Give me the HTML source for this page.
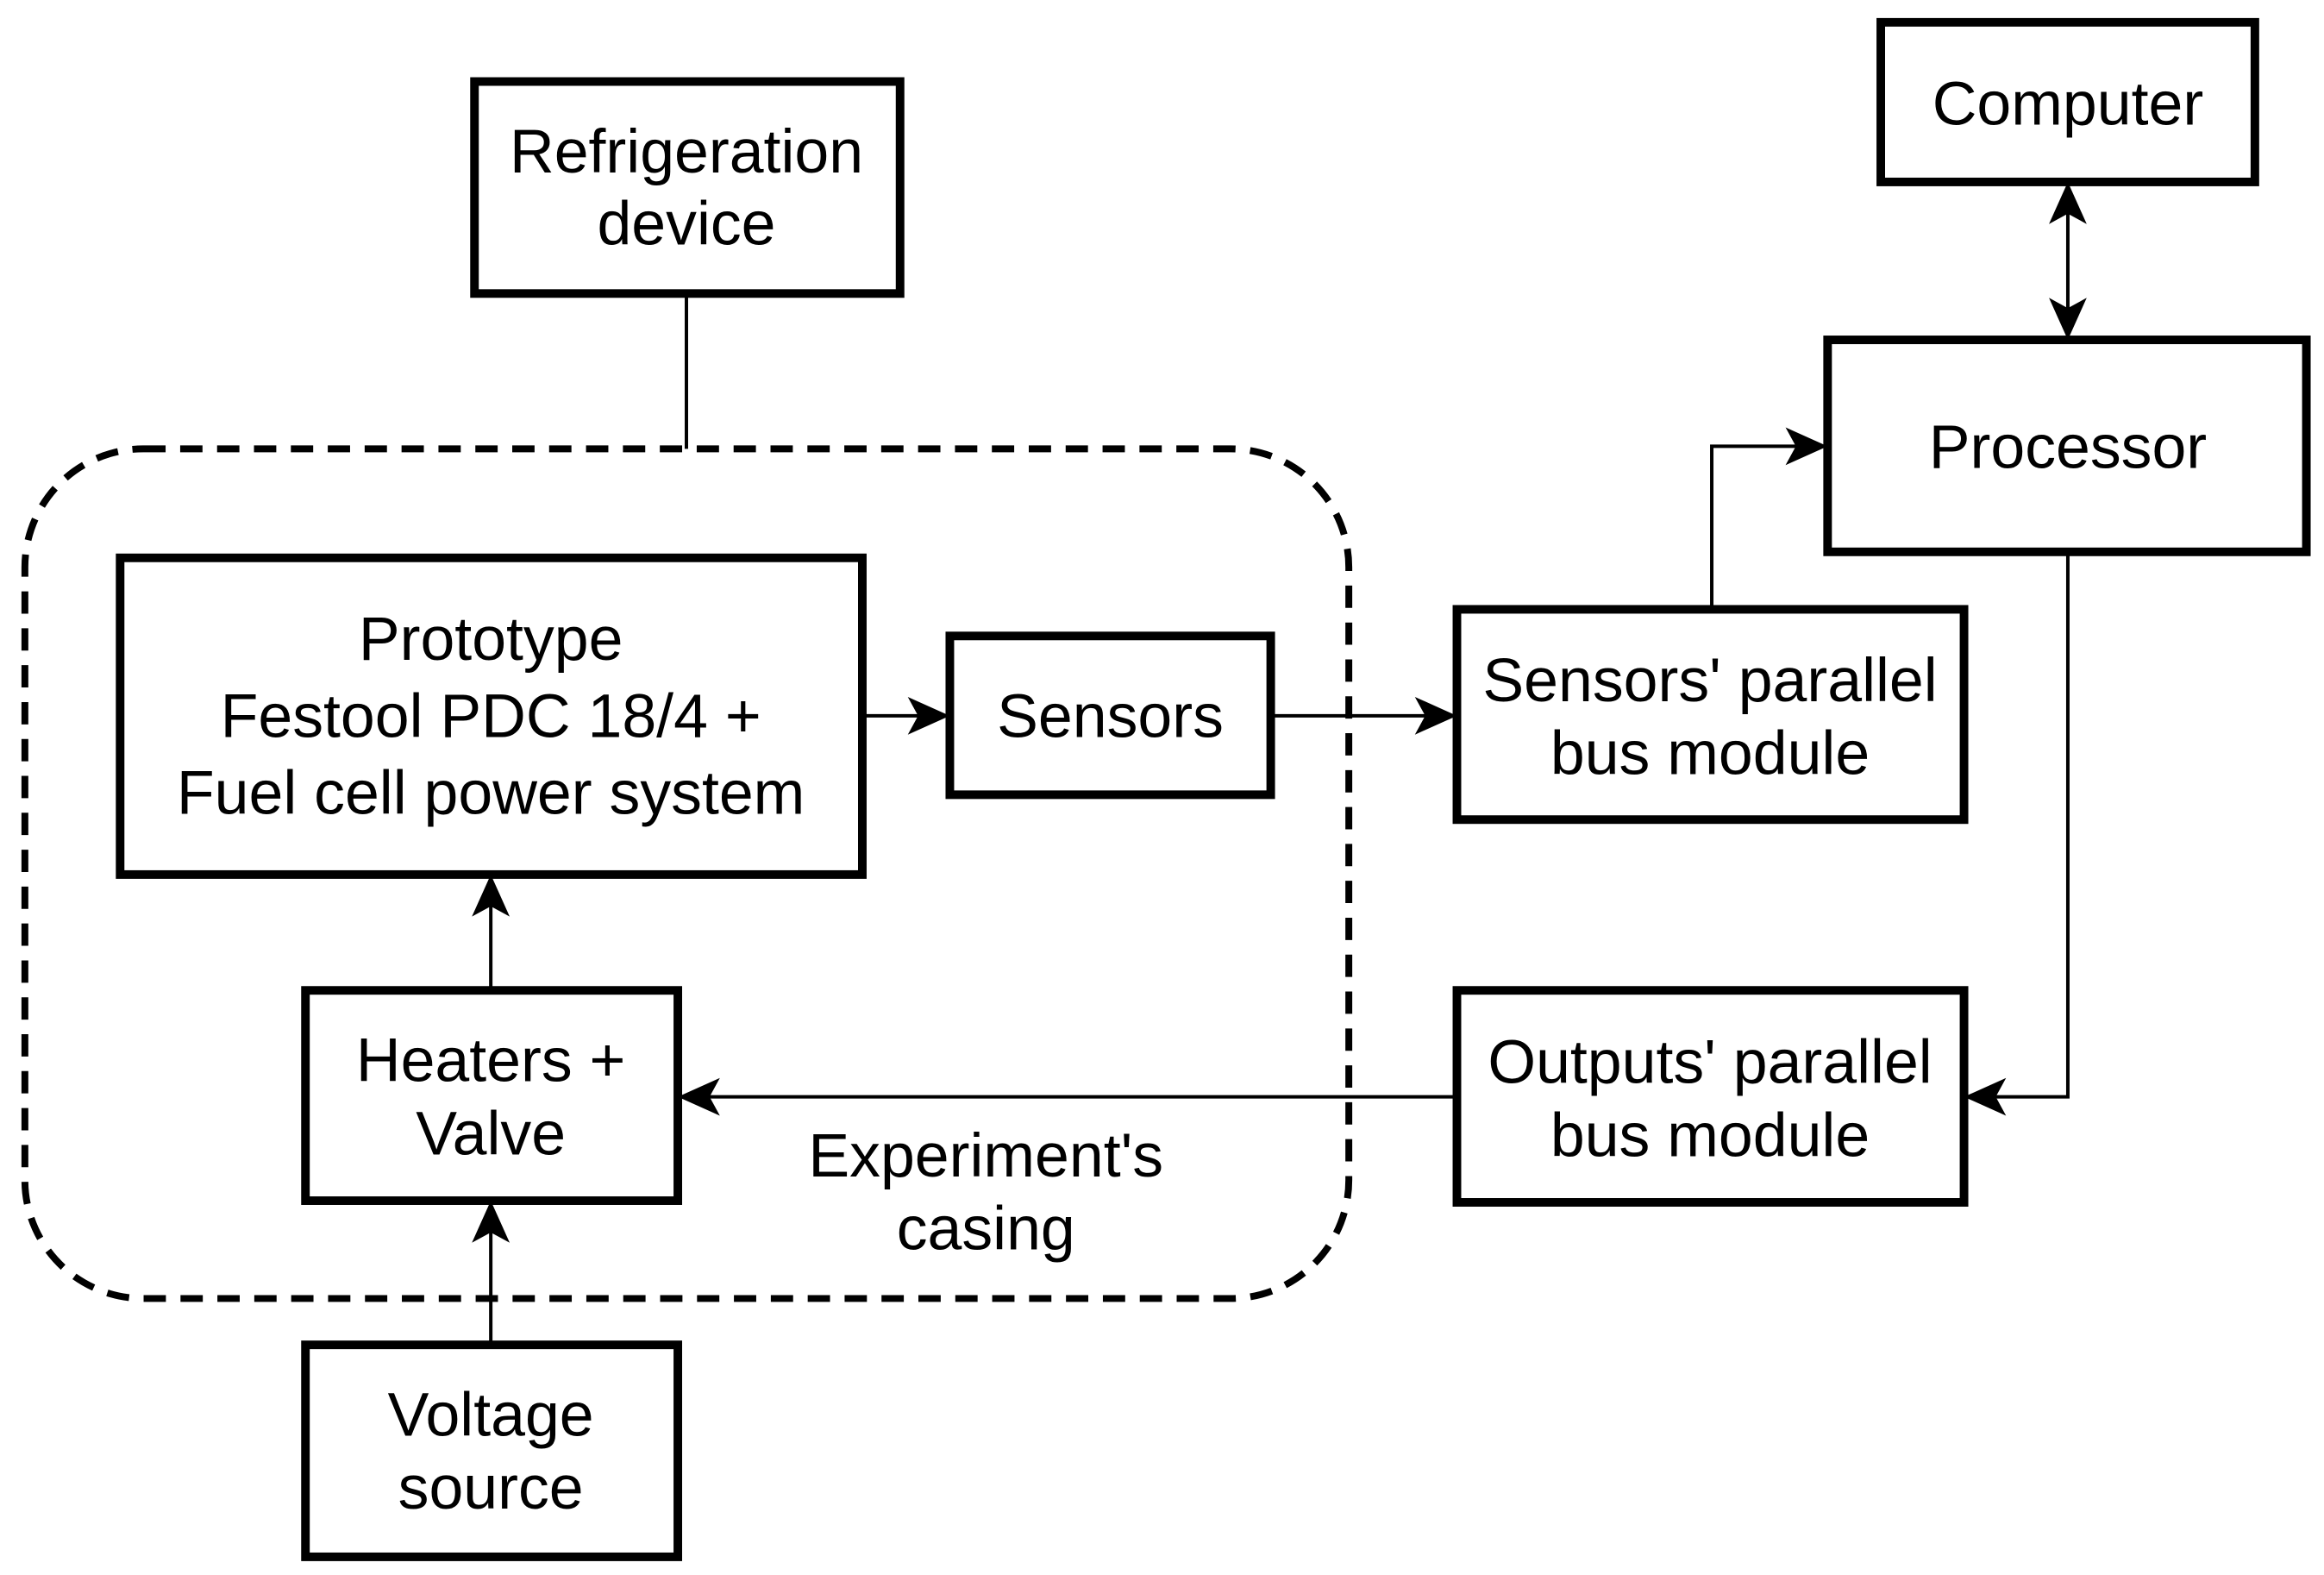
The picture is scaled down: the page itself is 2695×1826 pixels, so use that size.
<!DOCTYPE html>
<html><head><meta charset="utf-8"><style>
html,body{margin:0;padding:0;background:#fff}
svg{display:block}
text{font-family:"Liberation Sans",Arial,sans-serif;font-size:72px;fill:#000;text-anchor:middle}
</style></head><body>
<svg width="2695" height="1826" viewBox="0 0 2695 1826" xmlns="http://www.w3.org/2000/svg">
<g transform="scale(0.995)">
<g fill="none" stroke="#000">
<rect x="29" y="523" width="1543" height="990" rx="138" ry="138" stroke-width="8" stroke-dasharray="26 17"/>
<g stroke-width="10">
<rect x="553" y="95" width="496" height="247"/>
<rect x="2192" y="26" width="436" height="186"/>
<rect x="2130" y="396" width="558" height="247"/>
<rect x="140" y="650" width="865" height="369"/>
<rect x="1107" y="741" width="374" height="185"/>
<rect x="1698" y="710" width="591" height="245"/>
<rect x="1698" y="1154" width="591" height="247"/>
<rect x="356" y="1154" width="434" height="245"/>
<rect x="356" y="1567" width="434" height="247"/>
</g>
<g stroke-width="4">
<path d="M800 342V523"/>
<path d="M1005 834H1080"/>
<path d="M1481 834H1670"/>
<path d="M1995 710V520H2102"/>
<path d="M2410 240V368"/>
<path d="M2410 643V1278H2317"/>
<path d="M1698 1278H818"/>
<path d="M572 1154V1047"/>
<path d="M572 1567V1427"/>
</g>
</g>
<g fill="#000">
<path d="M1107 834L1058 812L1070 834L1058 856Z"/>
<path d="M1698 834L1649 812L1661 834L1649 856Z"/>
<path d="M2130 520L2081 498L2093 520L2081 542Z"/>
<path d="M2289 1278L2338 1256L2326 1278L2338 1300Z"/>
<path d="M790 1278L839 1256L827 1278L839 1300Z"/>
<path d="M572 1019L550 1068L572 1056L594 1068Z"/>
<path d="M572 1399L550 1448L572 1436L594 1448Z"/>
<path d="M2410 212L2388 261L2410 249L2432 261Z"/>
<path d="M2410 396L2388 347L2410 359L2432 347Z"/>
</g>
<text x="800" y="201">Refrigeration</text>
<text x="800" y="285">device</text>
<text x="2410" y="145">Computer</text>
<text x="2410" y="545">Processor</text>
<text x="572" y="769">Prototype</text>
<text x="572" y="859">Festool PDC 18/4 +</text>
<text x="572" y="948">Fuel cell power system</text>
<text x="1294" y="859">Sensors</text>
<text x="1993" y="817">Sensors' parallel</text>
<text x="1993" y="902">bus module</text>
<text x="1993" y="1262">Outputs' parallel</text>
<text x="1993" y="1347">bus module</text>
<text x="572" y="1260">Heaters +</text>
<text x="572" y="1345">Valve</text>
<text x="572" y="1673">Voltage</text>
<text x="572" y="1758">source</text>
<text x="1149" y="1371">Experiment's</text>
<text x="1149" y="1456">casing</text>
</g>
</svg>
</body></html>
